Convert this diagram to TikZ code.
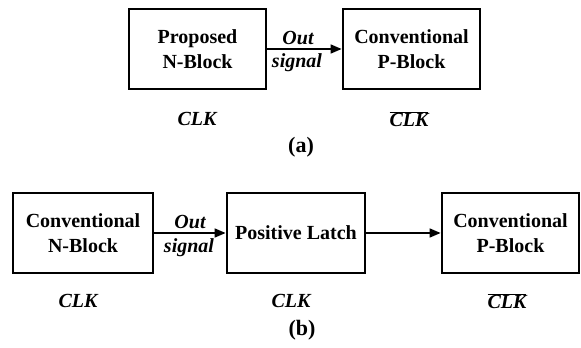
\documentclass[tikz,border=0pt]{standalone}
\usepackage{fontspec}
\setmainfont{Liberation Serif}
\usetikzlibrary{arrows.meta}
\begin{document}
\begin{tikzpicture}[x=1pt,y=1pt,
  blk/.style={draw, line width=2.8pt, inner sep=0pt, minimum height=80pt, align=center, font=\fontsize{20}{25}\selectfont\bfseries},
  lbl/.style={inner sep=0pt, font=\fontsize{20}{24}\selectfont\bfseries\itshape},
  figcap/.style={inner sep=0pt, font=\fontsize{22}{26}\selectfont\bfseries},
  arr/.style={line width=1.6pt, -{Triangle[length=11pt,width=9pt]}}]
\useasboundingbox (0,0) rectangle (581,348);
% (a)
\node[blk, minimum width=137pt] (pn) at (197.5,299) {Proposed\\N-Block};
\node[blk, minimum width=137pt] (pp) at (411.5,299) {Conventional\\P-Block};
\draw[arr] (pn.east) -- (pp.west);
\node[lbl] (outa) at (298,310) {Out};
\node[lbl] (siga) at (297,285) {signal};
\node[lbl] (clka) at (197,229) {CLK};
\node[lbl] (clkba) at (409,229) {$\overline{\mbox{CLK}}$};
\node[figcap] (capa) at (301,201) {(a)};
% (b)
\node[blk, minimum width=140pt] (cn) at (83,115) {Conventional\\N-Block};
\node[blk, minimum width=138pt] (pl) at (296,115) {Positive Latch};
\node[blk, minimum width=137pt] (cp) at (510.5,115) {Conventional\\P-Block};
\draw[arr] (cn.east) -- (pl.west);
\draw[arr] (pl.east) -- (cp.west);
\node[lbl] (outb) at (190,126) {Out};
\node[lbl] (sigb) at (189,100) {signal};
\node[lbl] (clkb1) at (78,47) {CLK};
\node[lbl] (clkb2) at (291,47) {CLK};
\node[lbl] (clkb3) at (507,47) {$\overline{\mbox{CLK}}$};
\node[figcap] (capb) at (302,18) {(b)};
\end{tikzpicture}
\end{document}
